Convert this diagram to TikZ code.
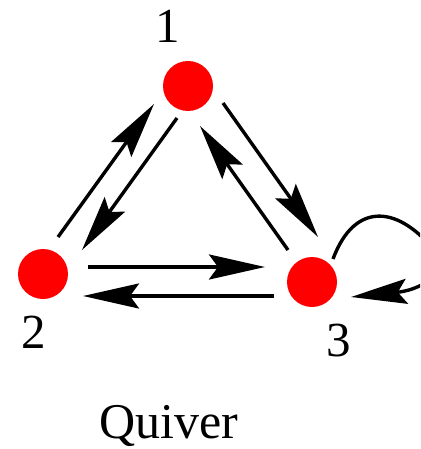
\documentclass[tikz,border=0pt]{standalone}
\usepackage{fontspec}
\setmainfont{Liberation Serif}
\usetikzlibrary{arrows.meta}
\begin{document}
\begin{tikzpicture}[x=1pt,y=-1pt,
  vert/.style={circle,fill=red,draw=none,minimum size=50pt,inner sep=0pt},
  lbl/.style={anchor=base,inner sep=0pt,font=\fontsize{49}{49}\selectfont},
  arr/.style={line width=3.4pt,-{Stealth[length=56pt,width=25pt,inset=9pt]}}]
\useasboundingbox (0,0) rectangle (420,449);
\clip (0,0) rectangle (420,449);
\node[vert] (n1) at (188,86) {};
\node[vert] (n2) at (43,274) {};
\node[vert] (n3) at (312,282) {};
\node[lbl] (l1) at (168,43) {1};
\node[lbl] (l2) at (33.5,348) {2};
\node[lbl] (l3) at (339,356) {3};
\node[lbl,font=\fontsize{50}{50}\selectfont] (title) at (168.5,438) {Quiver};
% 1 <-> 2
\draw[arr] ([shift={(15,-37)}]n2.center) -- ([shift={(-34,18)}]n1.center);
\draw[arr] ([shift={(-11,32)}]n1.center) -- ([shift={(39,-24)}]n2.center);
% 1 <-> 3
\draw[arr] ([shift={(35,17)}]n1.center) -- ([shift={(6,-45)}]n3.center);
\draw[arr] ([shift={(-24,-32)}]n3.center) -- ([shift={(12,40)}]n1.center);
% 2 <-> 3
\draw[arr] ([shift={(45,-7)}]n2.center) -- ([shift={(-47,-15)}]n3.center);
\draw[arr] ([shift={(-38,14)}]n3.center) -- ([shift={(40,22)}]n2.center);
% loop at 3
\coordinate (lp) at ([shift={(126,-27)}]n3.center);
\draw[arr] ([shift={(21,-23)}]n3.center) .. controls ([shift={(43,-82)}]n3.center) and ([shift={(88,-77)}]n3.center) .. (lp)
  .. controls ([shift={(133,-7)}]n3.center) and ([shift={(108,8)}]n3.center) .. ([shift={(39,15)}]n3.center);
\end{tikzpicture}
\end{document}
